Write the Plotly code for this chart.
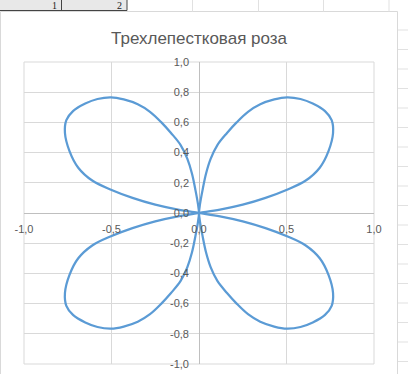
import plotly.graph_objects as go

# Точки кривой (по четвертям, в порядке обхода)
q1_x = [0.0, 0.12, 0.25, 0.38, 0.503, 0.61, 0.69, 0.74, 0.766, 0.758, 0.72, 0.65, 0.58, 0.503,
        0.43, 0.35, 0.28, 0.215, 0.16, 0.105, 0.067, 0.04, 0.02, 0.006, 0.0]
q1_y = [0.0, 0.022, 0.055, 0.10, 0.154, 0.215, 0.30, 0.41, 0.53, 0.615, 0.675, 0.725, 0.755, 0.766,
        0.752, 0.72, 0.67, 0.60, 0.53, 0.45, 0.36, 0.26, 0.15, 0.06, 0.0]

q4_x = [0.006, 0.02, 0.04, 0.067, 0.105, 0.16, 0.215, 0.28, 0.35, 0.43, 0.503, 0.58,
        0.65, 0.72, 0.758, 0.766, 0.74, 0.69, 0.61, 0.503, 0.38, 0.25, 0.12, 0.0]
q4_y = [-0.06, -0.15, -0.26, -0.36, -0.45, -0.53, -0.60, -0.67, -0.72, -0.752, -0.766, -0.755,
        -0.725, -0.675, -0.615, -0.53, -0.41, -0.30, -0.215, -0.154, -0.10, -0.055, -0.022, 0.0]

q2_x = [-0.12, -0.25, -0.38, -0.503, -0.61, -0.69, -0.74, -0.766, -0.758, -0.72, -0.65, -0.58,
        -0.503, -0.43, -0.35, -0.28, -0.215, -0.16, -0.105, -0.067, -0.04, -0.02, -0.006, 0.0]
q2_y = [0.022, 0.055, 0.10, 0.154, 0.215, 0.30, 0.41, 0.53, 0.615, 0.675, 0.725, 0.755,
        0.766, 0.752, 0.72, 0.67, 0.60, 0.53, 0.45, 0.36, 0.26, 0.15, 0.06, 0.0]

q3_x = [-0.006, -0.02, -0.04, -0.067, -0.105, -0.16, -0.215, -0.28, -0.35, -0.43, -0.503, -0.58,
        -0.65, -0.72, -0.758, -0.766, -0.74, -0.69, -0.61, -0.503, -0.38, -0.25, -0.12, 0.0]
q3_y = [-0.06, -0.15, -0.26, -0.36, -0.45, -0.53, -0.60, -0.67, -0.72, -0.752, -0.766, -0.755,
        -0.725, -0.675, -0.615, -0.53, -0.41, -0.30, -0.215, -0.154, -0.10, -0.055, -0.022, 0.0]

x_ticks = [-1.0, -0.5, 0.0, 0.5, 1.0]
x_labels = ['-1,0', '-0,5', '0,0', '0,5', '1,0']
y_ticks = [-1.0, -0.8, -0.6, -0.4, -0.2, 0.0, 0.2, 0.4, 0.6, 0.8, 1.0]
y_labels = ['-1,0', '-0,8', '-0,6', '-0,4', '-0,2', '0,0', '0,2', '0,4', '0,6', '0,8', '1,0']

TITLE = 'Трехлепестковая роза'
W, H = 408, 374
ML, MR, MT, MB = 24, 34, 62, 10
PW, PH = W - ML - MR, H - MT - MB

GRID = '#D9D9D9'
AXIS = '#BFBFBF'
TEXT = '#595959'
LINE = '#5B9BD5'
FONT = 'Liberation Sans'


def px(x):
    return (x - ML) / PW


def py(y):
    return (H - MB - y) / PH


xs = q1_x + q4_x + q2_x + q3_x
ys = q1_y + q4_y + q2_y + q3_y

fig = go.Figure()
fig.add_trace(go.Scatter(
    x=xs, y=ys,
    mode='lines',
    line=dict(color=LINE, width=2.25, shape='spline'),
    showlegend=False,
    hoverinfo='skip',
))

# Фон листа Excel и рамка диаграммы
shapes = []
shapes.append(dict(type='rect', xref='paper', yref='paper',
                   x0=px(0), x1=px(127), y0=py(0), y1=py(10.5),
                   fillcolor='#E8E8E8', line=dict(width=0), layer='below'))
shapes.append(dict(type='line', xref='paper', yref='paper',
                   x0=px(0), x1=px(127), y0=py(10.5), y1=py(10.5),
                   line=dict(color='#444444', width=1)))
for cx in [61.5, 127]:
    shapes.append(dict(type='line', xref='paper', yref='paper',
                       x0=px(cx), x1=px(cx), y0=py(0), y1=py(10.5),
                       line=dict(color='#444444', width=1)))
for cx in [192.5, 258.5, 323.5, 389]:
    shapes.append(dict(type='line', xref='paper', yref='paper',
                       x0=px(cx), x1=px(cx), y0=py(0), y1=py(11.5),
                       line=dict(color='#E1E1E1', width=1)))
ry = 30.0
while ry < H:
    shapes.append(dict(type='line', xref='paper', yref='paper',
                       x0=px(398), x1=px(W), y0=py(ry), y1=py(ry),
                       line=dict(color='#E1E1E1', width=1)))
    ry += 19.5
shapes.append(dict(type='rect', xref='paper', yref='paper',
                   x0=px(0.5), x1=px(397.5), y0=py(11.5), y1=py(H + 2),
                   line=dict(color=GRID, width=1), layer='below'))
shapes.append(dict(type='rect', xref='paper', yref='paper',
                   x0=0, x1=1, y0=0, y1=1,
                   line=dict(color=GRID, width=1), layer='below'))

annotations = [
    dict(text=TITLE, xref='paper', yref='paper', x=px(199), y=py(38),
         xanchor='center', yanchor='middle', showarrow=False,
         font=dict(family=FONT, size=17, color=TEXT)),
    dict(text='1', xref='paper', yref='paper', x=px(58), y=py(5.5),
         xanchor='right', yanchor='middle', showarrow=False, borderpad=0,
         font=dict(family='Liberation Serif', size=10, color='#222222')),
    dict(text='2', xref='paper', yref='paper', x=px(123), y=py(5.5),
         xanchor='right', yanchor='middle', showarrow=False, borderpad=0,
         font=dict(family='Liberation Serif', size=10, color='#222222')),
]

fig.update_layout(
    width=W, height=H,
    margin=dict(l=ML, r=MR, t=MT, b=MB, pad=0, autoexpand=False),
    paper_bgcolor='white',
    plot_bgcolor='white',
    shapes=shapes,
    annotations=annotations,
    xaxis=dict(
        range=[-1, 1], anchor='free', position=0.5, automargin=False,
        tickvals=x_ticks, ticktext=x_labels,
        showgrid=True, gridcolor=GRID, gridwidth=1,
        zeroline=True, zerolinecolor=AXIS, zerolinewidth=1,
        showline=False, ticks='', ticklabelstandoff=8,
        tickfont=dict(family=FONT, size=11, color=TEXT),
        fixedrange=True,
    ),
    yaxis=dict(
        range=[-1, 1], anchor='free', position=0.5, automargin=False,
        tickvals=y_ticks, ticktext=y_labels,
        showgrid=True, gridcolor=GRID, gridwidth=1,
        zeroline=True, zerolinecolor=AXIS, zerolinewidth=1,
        showline=False, ticks='', ticklabelstandoff=10,
        tickfont=dict(family=FONT, size=11, color=TEXT),
        fixedrange=True,
    ),
)

# убрать отступ body, чтобы фигура начиналась в левом верхнем углу окна
fig.write_html('out.html', config={'displayModeBar': False},
               post_script="document.body.style.margin='0';")
